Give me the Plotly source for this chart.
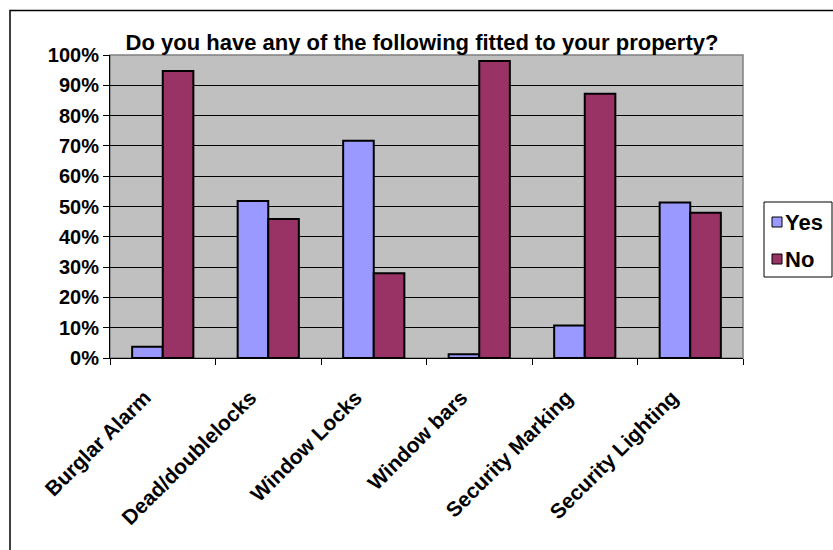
import plotly.graph_objects as go

# Survey responses: share of households with each security feature fitted
categories = ["Burglar Alarm", "Dead/doublelocks", "Window Locks",
              "Window bars", "Security Marking", "Security Lighting"]
yes_share = [0.037, 0.518, 0.717, 0.012, 0.107, 0.513]
no_share = [0.947, 0.459, 0.28, 0.98, 0.872, 0.479]
series_names = ["Yes", "No"]
series_colors = ["#9999FF", "#993366"]

yticks = [i / 10 for i in range(11)]
ytick_text = [f"{i * 10}%" for i in range(11)]

FONT = "Arial, Liberation Sans, sans-serif"

fig = go.Figure()
for name, vals, col in zip(series_names, [yes_share, no_share], series_colors):
    fig.add_trace(go.Bar(
        x=categories, y=vals, name=name, showlegend=False,
        marker=dict(color=col, line=dict(color="black", width=2)),
    ))

L, R, T, B = 110, 90, 55, 192
W, H = 833, 550
pw, ph = W - L - R, H - T - B


def px_x(v):
    return (v - L) / pw


def px_y(v):
    return (H - B - v) / ph


shapes = [
    # plot-area frame
    dict(type="rect", xref="paper", yref="paper", x0=0, x1=1, y0=0, y1=1,
         line=dict(color="#808080", width=1.5), layer="below"),
    # outer chart border
    dict(type="rect", xref="paper", yref="paper",
         x0=px_x(10), x1=px_x(W + 20), y0=px_y(H + 20), y1=px_y(10.5),
         line=dict(color="black", width=1.5)),
    # legend box
    dict(type="rect", xref="paper", yref="paper",
         x0=px_x(764), x1=px_x(832), y0=px_y(277), y1=px_y(202),
         line=dict(color="black", width=1), fillcolor="white"),
]
annotations = []
for i, (name, col) in enumerate(zip(series_names, series_colors)):
    cy = 222 + i * 37
    shapes.append(dict(type="rect", xref="paper", yref="paper",
                       x0=px_x(772), x1=px_x(782),
                       y0=px_y(cy + 5), y1=px_y(cy - 5),
                       line=dict(color="black", width=1), fillcolor=col))
    annotations.append(dict(
        text=f"<b>{name}</b>", xref="paper", yref="paper",
        x=px_x(783), y=px_y(cy), xanchor="left", yanchor="middle",
        showarrow=False, font=dict(size=22, family=FONT, color="black"),
    ))

fig.update_layout(
    width=W, height=H,
    margin=dict(l=L, r=R, t=T, b=B, autoexpand=False),
    paper_bgcolor="white",
    plot_bgcolor="#C0C0C0",
    barmode="group",
    bargap=0.42,
    bargroupgap=0,
    font=dict(family=FONT, color="black"),
    showlegend=False,
    title=dict(
        text="<b>Do you have any of the following fitted to your property?</b>",
        font=dict(size=22, family=FONT, color="black"),
        x=px_x(422), xref="paper", xanchor="center",
        y=1 - 42 / H, yanchor="middle",
    ),
    xaxis=dict(
        type="category",
        showline=True, linecolor="black", linewidth=1,
        ticks="outside", tickson="boundaries", ticklen=6, tickcolor="black",
        tickangle=-45, ticklabelstandoff=18, ticklabelshift=-18,
        tickfont=dict(size=21, family=FONT, color="black", weight="bold"),
        showgrid=False,
    ),
    yaxis=dict(
        range=[0, 1],
        tickvals=yticks, ticktext=ytick_text,
        showline=True, linecolor="black", linewidth=1,
        ticks="outside", ticklen=6, tickcolor="black",
        tickfont=dict(size=20, family=FONT, color="black", weight="bold"),
        showgrid=True, gridcolor="black", gridwidth=1,
        zeroline=False,
    ),
    shapes=shapes,
    annotations=annotations,
)

fig.write_html("out.html")
